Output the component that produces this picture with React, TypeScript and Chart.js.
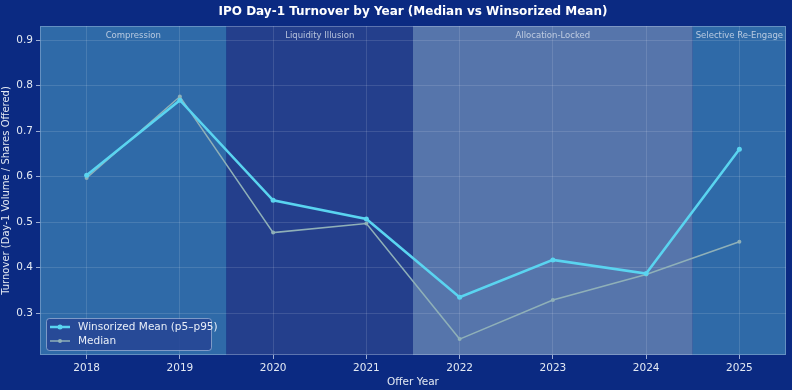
import React, { useEffect, useRef } from "react";
import { Chart, registerables } from "chart.js";

Chart.register(...registerables);

const years = ["2018", "2019", "2020", "2021", "2022", "2023", "2024", "2025"];
const winsorizedMean = [0.603, 0.768, 0.548, 0.507, 0.335, 0.417, 0.387, 0.660];
const median = [0.597, 0.776, 0.477, 0.497, 0.243, 0.329, 0.385, 0.457];
const yTicks = [0.3, 0.4, 0.5, 0.6, 0.7, 0.8, 0.9];
const regimeLabels = ["Compression", "Liquidity Illusion", "Allocation-Locked", "Selective Re-Engage"];
const regimeStart = [-0.5, 1.5, 3.5, 6.5];
const regimeEnd = [1.5, 3.5, 6.5, 7.5];
const regimeColors = ["#2f6aa8", "#243f8c", "#5675ab", "#2f6aa8"];

const FONT = "'DejaVu Sans', Verdana, sans-serif";

const bandsPlugin = {
  id: "bands",
  beforeDraw(chart: any) {
    const { ctx, chartArea, scales } = chart;
    const x = scales.x;
    ctx.save();
    ctx.fillStyle = "#0b2a82";
    ctx.fillRect(0, 0, chart.width, chart.height);
    for (let i = 0; i < regimeLabels.length; i++) {
      const x0 = x.getPixelForValue(regimeStart[i]);
      const x1 = x.getPixelForValue(regimeEnd[i]);
      ctx.fillStyle = regimeColors[i];
      ctx.fillRect(x0, chartArea.top, x1 - x0, chartArea.bottom - chartArea.top);
    }
    ctx.restore();
  },
  afterDatasetsDraw(chart: any) {
    const { ctx, chartArea, scales } = chart;
    const x = scales.x;
    ctx.save();
    ctx.font = `8.5px ${FONT}`;
    ctx.fillStyle = "rgba(215,224,238,0.8)";
    ctx.textAlign = "center";
    ctx.textBaseline = "middle";
    for (let i = 0; i < regimeLabels.length; i++) {
      const cx = (x.getPixelForValue(regimeStart[i]) + x.getPixelForValue(regimeEnd[i])) / 2;
      ctx.fillText(regimeLabels[i], cx, chartArea.top + 10);
    }
    // border
    ctx.strokeStyle = "rgba(200,215,240,0.35)";
    ctx.lineWidth = 1;
    ctx.strokeRect(chartArea.left + 0.5, chartArea.top + 0.5, chartArea.right - chartArea.left - 1, chartArea.bottom - chartArea.top - 1);
    // title
    ctx.font = `bold 12px ${FONT}`;
    ctx.fillStyle = "#ffffff";
    ctx.fillText("IPO Day-1 Turnover by Year (Median vs Winsorized Mean)", chart.width / 2 + 17, 12);
    // legend
    const lx = chartArea.left + 6;
    const ly = chartArea.bottom - 37;
    const lw = 165;
    const lh = 32;
    ctx.fillStyle = "rgba(38,68,148,0.85)";
    ctx.strokeStyle = "rgba(210,220,240,0.5)";
    ctx.beginPath();
    if (ctx.roundRect) ctx.roundRect(lx + 0.5, ly + 0.5, lw, lh, 3);
    else ctx.rect(lx + 0.5, ly + 0.5, lw, lh);
    ctx.fill();
    ctx.stroke();
    const items = [
      { label: "Winsorized Mean (p5\u2013p95)", color: "#5ad4f0", w: 2.5, r: 2.5 },
      { label: "Median", color: "#8fb0b8", w: 1.5, r: 2 },
    ];
    ctx.textAlign = "left";
    ctx.font = `10.5px ${FONT}`;
    items.forEach((it, k) => {
      const yy = ly + 9 + k * 14;
      ctx.strokeStyle = it.color;
      ctx.lineWidth = it.w;
      ctx.beginPath();
      ctx.moveTo(lx + 4, yy);
      ctx.lineTo(lx + 24, yy);
      ctx.stroke();
      ctx.fillStyle = it.color;
      ctx.beginPath();
      ctx.arc(lx + 14, yy, it.r, 0, Math.PI * 2);
      ctx.fill();
      ctx.fillStyle = "#e8eef8";
      ctx.fillText(it.label, lx + 32, yy + 0.5);
    });
    ctx.restore();
  },
};

export default function App() {
  const ref = useRef<HTMLCanvasElement | null>(null);
  useEffect(() => {
    if (!ref.current) return;
    const chart = new Chart(ref.current, {
      type: "line",
      data: {
        datasets: [
          {
            label: "Median",
            data: median.map((v, i) => ({ x: i, y: v })),
            borderColor: "#8fb0b8",
            backgroundColor: "#8fb0b8",
            borderWidth: 1.5,
            pointRadius: 2,
            pointBorderWidth: 0,
            tension: 0,
            order: 2,
          },
          {
            label: "Winsorized Mean (p5\u2013p95)",
            data: winsorizedMean.map((v, i) => ({ x: i, y: v })),
            borderColor: "#5ad4f0",
            backgroundColor: "#5ad4f0",
            borderWidth: 2.5,
            pointRadius: 2.5,
            pointBorderWidth: 0,
            tension: 0,
            order: 1,
          },
        ],
      },
      options: {
        animation: false,
        responsive: false,
        devicePixelRatio: 1,
        layout: { padding: { top: 26, right: 6, left: 0, bottom: 0 } },
        plugins: {
          legend: { display: false },
          title: { display: false },
          tooltip: { enabled: false },
        },
        scales: {
          x: {
            type: "linear",
            min: -0.5,
            max: 7.5,
            afterBuildTicks: (s: any) => {
              s.ticks = years.map((_, i) => ({ value: i }));
            },
            afterFit: (s: any) => {
              s.height = 35;
            },
            ticks: {
              callback: (v: any) => years[v as number] ?? "",
              color: "#e3e9f3",
              font: { family: FONT, size: 10.5 },
              maxRotation: 0,
              padding: 3,
            },
            grid: { color: "rgba(255,255,255,0.12)", tickLength: 4, tickColor: "rgba(220,230,245,0.7)" },
            border: { display: false },
            title: { display: true, text: "Offer Year", color: "#e3e9f3", font: { family: FONT, size: 10.5 }, padding: { top: 0, bottom: 1 } },
          },
          y: {
            type: "linear",
            min: 0.208,
            max: 0.931,
            afterBuildTicks: (s: any) => {
              s.ticks = yTicks.map((v) => ({ value: v }));
            },
            afterFit: (s: any) => {
              s.width = 40;
            },
            ticks: {
              callback: (v: any) => Number(v).toFixed(1),
              color: "#e3e9f3",
              font: { family: FONT, size: 10.5 },
              padding: 3,
            },
            grid: { color: "rgba(255,255,255,0.12)", tickLength: 4, tickColor: "rgba(220,230,245,0.7)" },
            border: { display: false },
            title: { display: true, text: "Turnover (Day-1 Volume / Shares Offered)", color: "#e3e9f3", font: { family: FONT, size: 10 }, padding: { top: 0, bottom: 2 } },
          },
        },
      },
      plugins: [bandsPlugin],
    } as any);
    return () => chart.destroy();
  }, []);
  return (
    <div style={{ position: "fixed", left: 0, top: 0, width: 792, height: 390, background: "#0b2a82" }}>
      <canvas ref={ref} width={792} height={390} style={{ display: "block", width: 792, height: 390 }} />
    </div>
  );
}
